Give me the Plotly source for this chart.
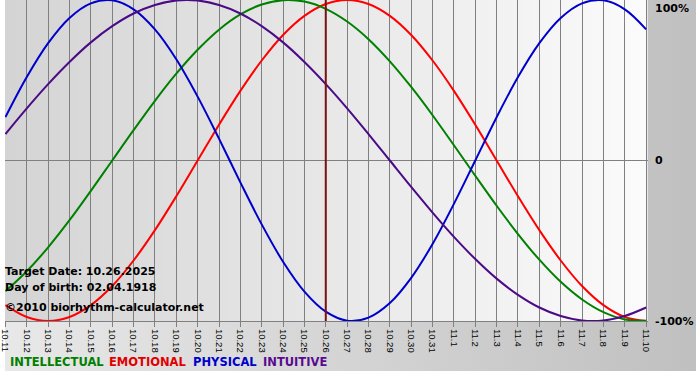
import plotly.graph_objects as go

# ---------------- data ----------------
dates = ["10.11", "10.12", "10.13", "10.14", "10.15", "10.16", "10.17", "10.18",
         "10.19", "10.20", "10.21", "10.22", "10.23", "10.24", "10.25", "10.26",
         "10.27", "10.28", "10.29", "10.30", "10.31", "11.1", "11.2", "11.3",
         "11.4", "11.5", "11.6", "11.7", "11.8", "11.9", "11.10"]
target_date = "10.26"

physical = [0.270, 0.520, 0.731, 0.888, 0.979, 0.998, 0.942, 0.817, 0.631, 0.398,
            0.136, -0.136, -0.398, -0.631, -0.817, -0.942, -0.998, -0.979, -0.888,
            -0.731, -0.520, -0.270, 0.000, 0.270, 0.520, 0.731, 0.888, 0.979, 0.998,
            0.942, 0.817]
emotional = [-0.901, -0.975, -1.000, -0.975, -0.901, -0.782, -0.623, -0.434, -0.223,
             0.000, 0.223, 0.434, 0.623, 0.782, 0.901, 0.975, 1.000, 0.975, 0.901,
             0.782, 0.623, 0.434, 0.223, 0.000, -0.223, -0.434, -0.623, -0.782,
             -0.901, -0.975, -1.000]
intellectual = [-0.815, -0.690, -0.541, -0.372, -0.189, 0.000, 0.189, 0.372, 0.541,
                0.690, 0.815, 0.910, 0.972, 0.999, 0.990, 0.945, 0.866, 0.756, 0.618,
                0.458, 0.282, 0.095, -0.095, -0.282, -0.458, -0.618, -0.756, -0.866,
                -0.945, -0.990, -0.999]
intuitive = [0.165, 0.325, 0.476, 0.614, 0.736, 0.837, 0.916, 0.969, 0.997, 0.997,
             0.969, 0.916, 0.837, 0.736, 0.614, 0.476, 0.325, 0.165, 0.000, -0.165,
             -0.325, -0.476, -0.614, -0.736, -0.837, -0.916, -0.969, -0.997, -0.997,
             -0.969, -0.916]

y_tick_labels = ["100%", "0", "-100%"]
y_tick_values = [1, 0, -1]
info_lines = ["Target Date: 10.26.2025", "Day of birth: 02.04.1918",
              "\u00a92010 biorhythm-calculator.net"]
series_names = ["INTELLECTUAL", "EMOTIONAL", "PHYSICAL", "INTUITIVE"]

# ---------------- styling ----------------
W, H = 700, 380
PLOT_R, PLOT_B, BG_B = 651, 321, 371
colors = {"INTELLECTUAL": "#008000", "EMOTIONAL": "#ff0000",
          "PHYSICAL": "#0000cc", "INTUITIVE": "#4b0a86"}
legend_colors = {"INTELLECTUAL": "#008000", "EMOTIONAL": "#e00000",
                 "PHYSICAL": "#0000cc", "INTUITIVE": "#5a0a90"}
legend_x = {"INTELLECTUAL": 7, "EMOTIONAL": 107, "PHYSICAL": 192.5, "INTUITIVE": 263}


def px(x):
    return x / W


def py(y):
    return 1 - y / H


xs = list(range(len(dates)))
fig = go.Figure()

# backgrounds on a hidden full-page subplot (drawn first)
fig.add_trace(go.Scatter(
    x=[0, 1, 1, 0], y=[py(BG_B), py(BG_B), 1, 1], fill="toself", mode="lines",
    line=dict(width=0), hoverinfo="skip",
    fillgradient=dict(type="horizontal", colorscale=[[0, "#e8e8e8"], [1, "#c0c0c0"]]),
    xaxis="x", yaxis="y"))
fig.add_trace(go.Scatter(
    x=[0, px(PLOT_R), px(PLOT_R), 0], y=[py(PLOT_B), py(PLOT_B), 1, 1], fill="toself",
    mode="lines", line=dict(width=0), hoverinfo="skip",
    fillgradient=dict(type="horizontal", colorscale=[[0, "#d4d4d4"], [1, "#fbfbfb"]]),
    xaxis="x", yaxis="y"))

series = {"EMOTIONAL": emotional, "INTELLECTUAL": intellectual,
          "PHYSICAL": physical, "INTUITIVE": intuitive}
for name, vals in series.items():
    fig.add_trace(go.Scatter(
        x=xs, y=vals, mode="lines", name=name,
        line=dict(color=colors[name], width=2, shape="spline", smoothing=1),
        xaxis="x2", yaxis="y2"))

annotations = []
for lab, val in zip(y_tick_labels, y_tick_values):
    annotations.append(dict(
        text="<b>" + lab + "</b>", xref="paper", x=px(656), xanchor="left",
        yref="y2", y=val, yanchor="top" if val == 1 else "middle",
        showarrow=False, font=dict(family="DejaVu Sans", size=11, color="black")))

for line, yc in zip(info_lines, [271.5, 287.5, 307]):
    annotations.append(dict(
        text="<b>" + line + "</b>", xref="paper", x=px(-2), xanchor="left",
        yref="paper", y=py(yc), yanchor="middle", showarrow=False,
        font=dict(family="DejaVu Sans", size=11, color="black")))

for name in series_names:
    annotations.append(dict(
        text="<b>" + name + "</b>", xref="paper", x=px(legend_x[name] - 4),
        xanchor="left", yref="paper", y=py(362), yanchor="middle", showarrow=False,
        font=dict(family="DejaVu Sans", size=11.5, color=legend_colors[name])))

fig.update_layout(
    width=W, height=H, autosize=False,
    margin=dict(l=0, r=0, t=0, b=0, pad=0),
    paper_bgcolor="white", plot_bgcolor="rgba(0,0,0,0)",
    showlegend=False,
    xaxis=dict(domain=[0, 1], range=[0, 1], visible=False, fixedrange=True),
    yaxis=dict(domain=[0, 1], range=[0, 1], visible=False, fixedrange=True),
    xaxis2=dict(domain=[0, px(PLOT_R)], anchor="y2", range=[-0.02, 30.07],
                tickmode="array", tickvals=xs, ticktext=dates, tickangle=90,
                ticklabeloverflow="allow",
                showgrid=True, gridcolor="#808080", gridwidth=1,
                ticks="outside", ticklen=5, tickcolor="#808080", tickwidth=1,
                showline=True, linecolor="#808080", linewidth=1, zeroline=False,
                tickfont=dict(family="Liberation Sans", size=9.5, color="black")),
    yaxis2=dict(domain=[py(PLOT_B), 1], anchor="x2", range=[-1, 1],
                showgrid=False, zeroline=True, zerolinecolor="#808080",
                zerolinewidth=1, showticklabels=False, ticks=""),
    shapes=[dict(type="line", xref="x2", yref="y2 domain",
                 x0=dates.index(target_date), x1=dates.index(target_date),
                 y0=0, y1=1, line=dict(color="#7a1010", width=2), layer="above")],
    annotations=annotations,
)

fig.write_html("out.html", config={"displayModeBar": False},
               post_script="document.body.style.margin='0';document.body.style.padding='0';")
